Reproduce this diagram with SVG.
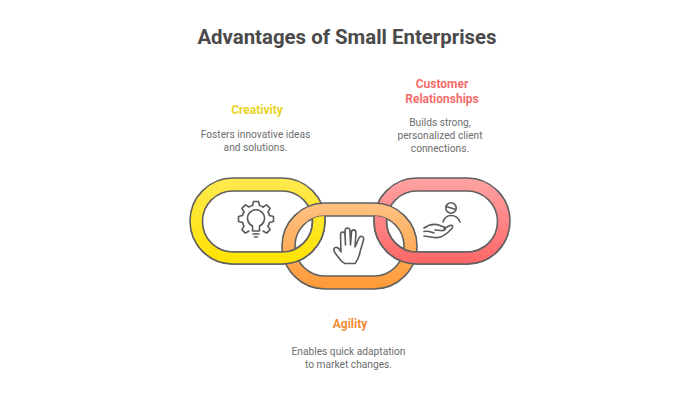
<svg xmlns="http://www.w3.org/2000/svg" width="700" height="400" viewBox="0 0 700 400">
<style>
text{font-family:Roboto,"Liberation Sans",sans-serif;text-anchor:middle}
.title{font-size:20.400px;font-weight:700;fill:#4a4a4a}
.head{font-size:12px;font-weight:700}
.desc{font-size:10.200px;fill:#6e6e6e}
.ring{fill-rule:evenodd;stroke:#606060;stroke-width:1.600}
.icon{fill:none;stroke:#5a5a5a;stroke-width:1.600;stroke-linecap:round;stroke-linejoin:round}
</style>
<defs>
<linearGradient id="gy" x1="0" y1="0" x2="0" y2="1"><stop offset="0" stop-color="#ffe94f"/><stop offset="1" stop-color="#ffe300"/></linearGradient>
<linearGradient id="go" x1="0" y1="0" x2="0" y2="1"><stop offset="0" stop-color="#ffc283"/><stop offset="1" stop-color="#ff9a36"/></linearGradient>
<linearGradient id="gr" x1="0" y1="0" x2="0" y2="1"><stop offset="0" stop-color="#ffa3a3"/><stop offset="1" stop-color="#ff6666"/></linearGradient>
<path id="ry" class="ring" fill="url(#gy)" d="M233 178H282A43 43 0 0 1 282 264H233A43 43 0 0 1 233 178ZM233 191A30.500 30.500 0 0 0 233 252H282A30.500 30.500 0 0 0 282 191Z"/>
<path id="rr" class="ring" fill="url(#gr)" d="M417 178H467A43 43 0 0 1 467 264H417A43 43 0 0 1 417 178ZM417 191A30.500 30.500 0 0 0 417 252H467A30.500 30.500 0 0 0 467 191Z"/>
<clipPath id="overlap"><path d="M325 216A30 30 0 0 0 325 276H374A30 30 0 0 0 374 216Z"/><rect x="180" y="246" width="340" height="30"/></clipPath>
<path id="tooth" d="M-3.500 -13.500L-2.500 -17.500H2.500L3.500 -13.500A14 14 0 0 1 7.070 -12.020"/>
</defs>
<text class="title" x="347" y="44">Advantages of Small Enterprises</text>
<g id="ring-yellow"><use href="#ry"/></g>
<g id="ring-red"><use href="#rr"/></g>
<g id="ring-orange"><path class="ring" fill="url(#go)" d="M325 203H374A43 43 0 0 1 374 289H325A43 43 0 0 1 325 203ZM325 216A30 30 0 0 0 325 276H374A30 30 0 0 0 374 216Z"/></g>
<g id="links" clip-path="url(#overlap)"><use href="#ry"/><use href="#rr"/></g>
<g id="creativity">
<text class="head" x="257" y="114" fill="#e9d322">Creativity</text>
<text class="desc" x="255.500" y="138">Fosters innovative ideas</text>
<text class="desc" x="255.500" y="151">and solutions.</text>
<g class="icon" transform="translate(256 219)">
<use href="#tooth"/><use href="#tooth" transform="rotate(45)"/><use href="#tooth" transform="rotate(90)"/>
<path transform="rotate(135)" d="M-3.500 -13.500L-2.500 -17.500H2.500L3.500 -13.500"/>
<path transform="rotate(225)" d="M-3.500 -13.500L-2.500 -17.500H2.500L3.500 -13.500A14 14 0 0 1 7.070 -12.020"/>
<use href="#tooth" transform="rotate(270)"/><use href="#tooth" transform="rotate(315)"/>
<path d="M-3.500 8.500V7A8.500 8.500 0 1 1 3.500 7V12H-3.500V8.500M-3 15H3M-1.500 18H1.500"/>
</g>
</g>
<g id="agility">
<text class="head" x="350" y="328" fill="#f28d35">Agility</text>
<text class="desc" x="348.500" y="355">Enables quick adaptation</text>
<text class="desc" x="348.500" y="368">to market changes.</text>
<path class="icon" d="M345 263.500C341 262 339 258 335.500 253.500C333 250 333.500 248 335.500 247.500C337.500 247 339.500 249 341 252L340.500 235C340.500 231 344.500 231 345 235L345.500 245L345 231C345 227 350 227 350 231L350.500 245L351.500 232C352 229 356 229 356 233L355 247L359 238C360.500 235 364.500 236.500 363.500 240L360 252C359 258 357 261 355 263.500Z"/>
</g>
<g id="customer">
<text class="head" x="442" y="88" fill="#f46d6d">Customer</text>
<text class="head" x="442" y="103" fill="#f46d6d">Relationships</text>
<text class="desc" x="440" y="126">Builds strong,</text>
<text class="desc" x="440" y="139">personalized client</text>
<text class="desc" x="440" y="152">connections.</text>
<g class="icon">
<circle cx="451" cy="208" r="5.200"/><path d="M446 206.500L456 209.500M443 222C444.500 217.500 447.500 215.500 451 215.500C455 215.500 458.500 218 460 222"/>
<path d="M424 228C429 224.500 435 223.500 440 225.500L444 227C447 228.500 445 231 441 230.500L435 230M444 228.500L450 225.500C453 224.500 453.500 227 451.500 229C446 235 440 238.500 434 237.500L424 236M424 231.500C428 230.500 431 232 434 233"/>
</g>
</g>
</svg>
